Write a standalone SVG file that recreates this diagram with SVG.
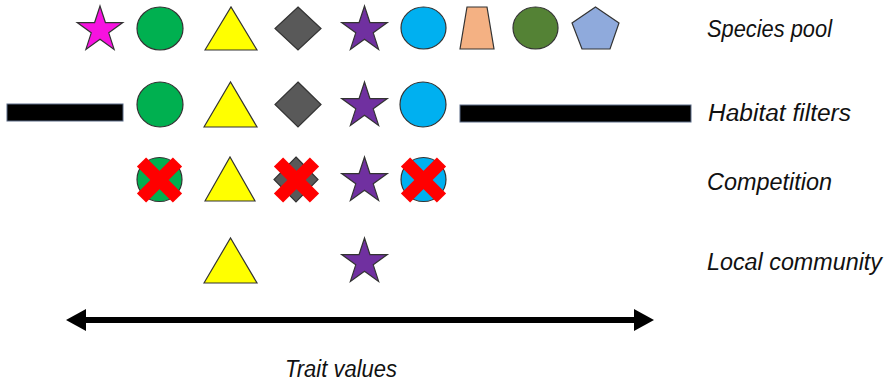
<svg xmlns="http://www.w3.org/2000/svg" width="887" height="384" viewBox="0 0 887 384">
  <style>
    .lbl { font-family: "Liberation Sans", Arial, sans-serif; font-style: italic; font-size: 23px; fill: #111; }
    .sh { stroke: #333; stroke-width: 1.2; stroke-linejoin: miter; }
    .bar { fill: #000; stroke: #5a6a85; stroke-width: 1; }
    .x { stroke: #ff0000; stroke-width: 13; stroke-linecap: butt; }
    .star { stroke: #333; stroke-width: 1.2; }
  </style>
  <defs>
    <path id="star" d="M0,-24 L5.41,-7.44 L22.83,-7.42 L8.75,2.84 L14.11,19.42 L0,9.2 L-14.11,19.42 L-8.75,2.84 L-22.83,-7.42 L-5.41,-7.44 Z"/>
    <g id="xmark">
      <line class="x" x1="-18" y1="-18" x2="18" y2="18"/>
      <line class="x" x1="18" y1="-18" x2="-18" y2="18"/>
    </g>
    <marker id="ah" viewBox="0 0 20 22" markerWidth="20" markerHeight="22" refX="0" refY="11" orient="auto-start-reverse" markerUnits="userSpaceOnUse">
      <path d="M0,0 L20,11 L0,22 Z" fill="#000"/>
    </marker>
  </defs>

  <!-- Row 1: Species pool -->
  <g id="row-species-pool">
    <use href="#star" class="star" x="100" y="30" fill="#F712E0"/>
    <ellipse class="sh" cx="160" cy="28.5" rx="23" ry="21.5" fill="#00B050"/>
    <polygon class="sh" points="205,50 231,7 257,50" fill="#FFFF00"/>
    <polygon class="sh" points="298,7 321,28.5 298,50 275,28.5" fill="#595959"/>
    <use href="#star" class="star" x="364.5" y="30" fill="#7030A0"/>
    <ellipse class="sh" cx="423.5" cy="28" rx="22.5" ry="21" fill="#00B0F0"/>
    <polygon class="sh" points="460,49 467,7 487,7 494,49" fill="#F4B183"/>
    <ellipse class="sh" cx="535.5" cy="28" rx="22.5" ry="21" fill="#548235"/>
    <polygon class="sh" points="595.5,7 619,23 610,49 582,49 572,23" fill="#8FAADC" stroke="#44546A"/>
    <text class="lbl" x="707" y="37" textLength="125" lengthAdjust="spacingAndGlyphs">Species pool</text>
  </g>

  <!-- Row 2: Habitat filters -->
  <g id="row-habitat-filters">
    <rect class="bar" x="7" y="104" width="116" height="17"/>
    <ellipse class="sh" cx="160" cy="104.5" rx="23" ry="22.5" fill="#00B050"/>
    <polygon class="sh" points="204,127 230.5,82 257,127" fill="#FFFF00"/>
    <polygon class="sh" points="298,82 321,104.5 298,127 275,104.5" fill="#595959"/>
    <use href="#star" class="star" x="364.5" y="106" fill="#7030A0"/>
    <ellipse class="sh" cx="423" cy="104.5" rx="23" ry="22.5" fill="#00B0F0"/>
    <rect class="bar" x="460" y="105" width="231" height="17"/>
    <text class="lbl" x="708" y="121" textLength="143" lengthAdjust="spacingAndGlyphs">Habitat filters</text>
  </g>

  <!-- Row 3: Competition -->
  <g id="row-competition">
    <ellipse class="sh" cx="159.5" cy="179.5" rx="22.5" ry="22" fill="#00B050"/>
    <use href="#xmark" x="159.5" y="180"/>
    <polygon class="sh" points="205,201 230,157 255,201" fill="#FFFF00"/>
    <polygon class="sh" points="296,157 318,179.5 296,202 274,179.5" fill="#595959"/>
    <use href="#xmark" x="296.5" y="180"/>
    <use href="#star" class="star" x="364.5" y="181" fill="#7030A0"/>
    <ellipse class="sh" cx="423.5" cy="179.5" rx="22.5" ry="22" fill="#00B0F0"/>
    <use href="#xmark" x="423.5" y="180"/>
    <text class="lbl" x="707" y="190" textLength="125" lengthAdjust="spacingAndGlyphs">Competition</text>
  </g>

  <!-- Row 4: Local community -->
  <g id="row-local-community">
    <polygon class="sh" points="204,283 230.5,238 257,283" fill="#FFFF00"/>
    <use href="#star" class="star" x="364.5" y="262" fill="#7030A0"/>
    <text class="lbl" x="707" y="270" textLength="175" lengthAdjust="spacingAndGlyphs">Local community</text>
  </g>

  <!-- Connectors -->
  <g id="connectors">
    <line x1="86" y1="320" x2="634" y2="320" stroke="#000" stroke-width="6" marker-start="url(#ah)" marker-end="url(#ah)"/>
  </g>

  <g id="axis-label">
    <text class="lbl" x="285" y="377" textLength="112" lengthAdjust="spacingAndGlyphs">Trait values</text>
  </g>
</svg>
